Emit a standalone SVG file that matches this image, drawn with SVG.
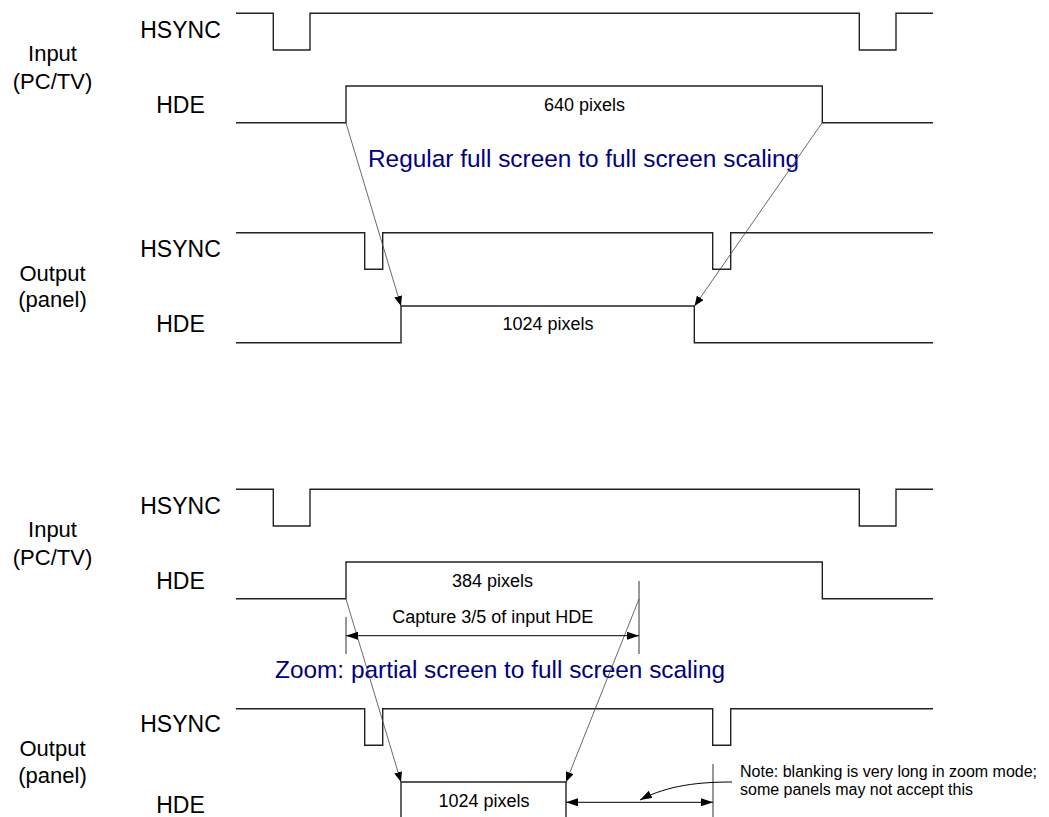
<svg xmlns="http://www.w3.org/2000/svg" width="1049" height="817" viewBox="0 0 1049 817">
<defs>
<style>
.sig{fill:none;stroke:#222;stroke-width:1.4}
.lbl{font-family:"Liberation Sans",Arial,sans-serif;font-size:23px;fill:#000;text-anchor:middle}
.grp{font-family:"Liberation Sans",Arial,sans-serif;font-size:22px;fill:#000;text-anchor:middle}
.px{font-family:"Liberation Sans",Arial,sans-serif;font-size:18px;fill:#000;text-anchor:middle}
.title{font-family:"Liberation Sans",Arial,sans-serif;font-size:24.4px;fill:#000080}
.note{font-family:"Liberation Sans",Arial,sans-serif;font-size:16px;fill:#000}
.diag{fill:none;stroke:#444;stroke-width:0.8}
.dim{fill:none;stroke:#000;stroke-width:1}
.ext{fill:none;stroke:#333;stroke-width:1}
</style>
<marker id="ah" viewBox="0 0 10 8" refX="10" refY="4" markerWidth="10" markerHeight="8" markerUnits="userSpaceOnUse" orient="auto-start-reverse">
<path d="M0,0 L10,4 L0,8 z" fill="#000"/>
</marker>
<marker id="ah2" viewBox="0 0 12 8" refX="12" refY="4" markerWidth="12" markerHeight="8" markerUnits="userSpaceOnUse" orient="auto-start-reverse">
<path d="M0,0 L12,4 L0,8 z" fill="#000"/>
</marker>
</defs>
<rect width="1049" height="817" fill="#fff"/>

<!-- Top section: regular scaling -->
<g id="top-labels">
<text class="grp" x="52.5" y="61">Input</text>
<text class="grp" x="52.5" y="89">(PC/TV)</text>
<text class="grp" x="52.5" y="281">Output</text>
<text class="grp" x="52.5" y="307">(panel)</text>
</g>
<g id="top-in-hsync">
<text class="lbl" x="180.5" y="37.5">HSYNC</text>
<path class="sig" d="M236,13.3 H273.3 V50 H310 V13.3 H859.3 V50 H896 V13.3 H933"/>
</g>
<g id="top-in-hde">
<text class="lbl" x="180.5" y="112.5">HDE</text>
<path class="sig" d="M236,122.7 H346 V86 H822.3 V122.7 H933"/>
<text class="px" x="584.5" y="110.5">640 pixels</text>
</g>
<g id="top-title">
<text class="title" x="368" y="166.5">Regular full screen to full screen scaling</text>
</g>
<g id="top-out-hsync">
<text class="lbl" x="180.5" y="256.5">HSYNC</text>
<path class="sig" d="M236,232.7 H364.7 V269.3 H382.7 V232.7 H712.7 V269.3 H730.7 V232.7 H933"/>
</g>
<g id="top-out-hde">
<text class="lbl" x="180.5" y="331.5">HDE</text>
<path class="sig" d="M236,342.7 H401 V306 H694.3 V342.7 H933"/>
<text class="px" x="548" y="330">1024 pixels</text>
</g>

<!-- Bottom section: zoom -->
<g id="bot-labels">
<text class="grp" x="52.5" y="536.5">Input</text>
<text class="grp" x="52.5" y="565">(PC/TV)</text>
<text class="grp" x="52.5" y="756">Output</text>
<text class="grp" x="52.5" y="783">(panel)</text>
</g>
<g id="bot-in-hsync">
<text class="lbl" x="180.5" y="514">HSYNC</text>
<path class="sig" d="M236,489.3 H273.3 V526 H310 V489.3 H859.3 V526 H896 V489.3 H933"/>
</g>
<g id="bot-in-hde">
<text class="lbl" x="180.5" y="588.5">HDE</text>
<path class="sig" d="M236,598.7 H346 V562 H822.3 V598.7 H933"/>
<text class="px" x="492.5" y="586.5">384 pixels</text>
</g>
<g id="bot-capture">
<path class="ext" d="M346,617 V654 M639,581 V654"/>
<text class="px" x="492.8" y="622.5">Capture 3/5 of input HDE</text>
</g>
<g id="bot-title">
<text class="title" x="275" y="678">Zoom: partial screen to full screen scaling</text>
</g>
<g id="bot-out-hsync">
<text class="lbl" x="180.5" y="732">HSYNC</text>
<path class="sig" d="M236,708.7 H364.7 V745.3 H382.7 V708.7 H712.7 V745.3 H730.7 V708.7 H933"/>
</g>
<g id="bot-out-hde">
<text class="lbl" x="180.5" y="813">HDE</text>
<path class="sig" d="M401,820 V782 H566 V820"/>
<text class="px" x="484" y="806.5">1024 pixels</text>
</g>
<g id="bot-blanking">
<path class="ext" d="M713,764 V820"/>
<text class="note" x="740" y="777">Note: blanking is very long in zoom mode;</text>
<text class="note" x="740" y="795">some panels may not accept this</text>
</g>

<g id="connectors">
<line class="diag" x1="346" y1="123" x2="401" y2="306" marker-end="url(#ah)"/>
<line class="diag" x1="822" y1="123" x2="694.5" y2="306" marker-end="url(#ah)"/>
<line class="diag" x1="346" y1="599" x2="401" y2="782" marker-end="url(#ah)"/>
<line class="diag" x1="639" y1="599" x2="566" y2="782" marker-end="url(#ah)"/>
<line class="dim" x1="346" y1="635.7" x2="639" y2="635.7" marker-start="url(#ah2)" marker-end="url(#ah2)"/>
<line class="dim" x1="566" y1="802.3" x2="713" y2="802.3" marker-start="url(#ah2)" marker-end="url(#ah2)"/>
<path class="dim" d="M732,782 C700,782 668,785 640,800" marker-end="url(#ah2)"/>
</g>
</svg>
